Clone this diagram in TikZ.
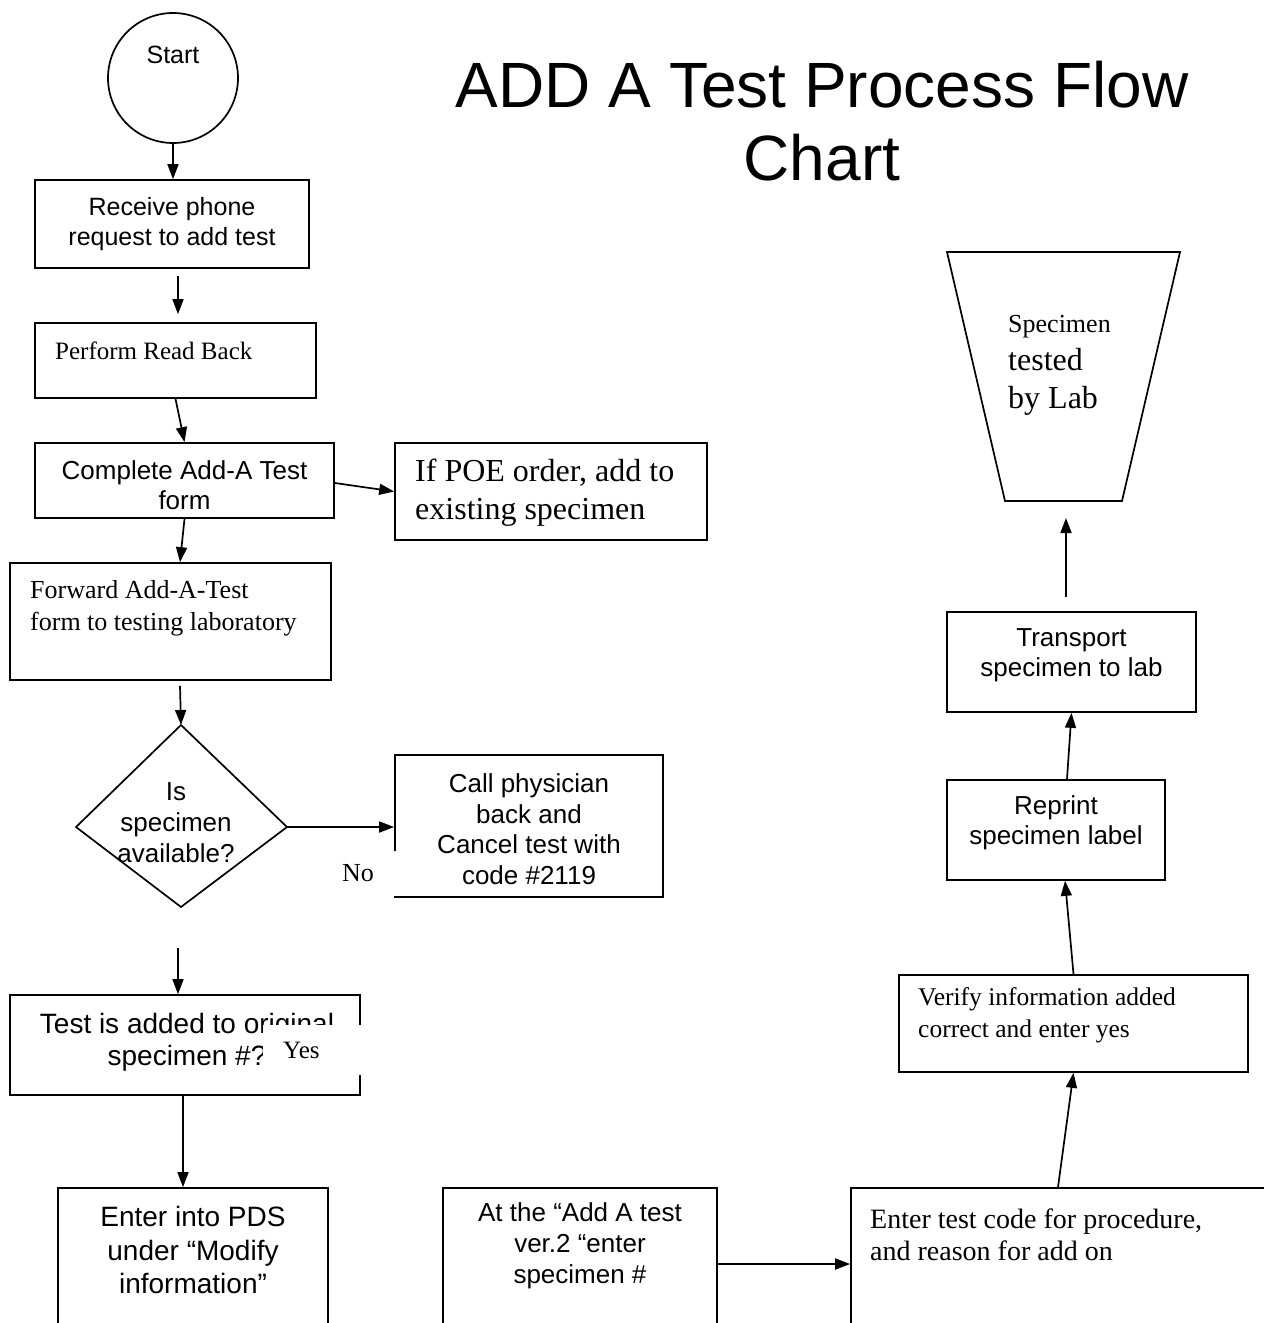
\documentclass[tikz,border=0pt]{standalone}
\usepackage{fontspec}
\setmainfont{Liberation Serif}
\setsansfont{Liberation Sans}
\usetikzlibrary{arrows.meta,calc}
\newcommand\myfs[2]{\fontsize{#1}{#2}\selectfont}
\begin{document}
\begin{tikzpicture}[x=1pt,y=-1pt,
  box/.style={draw, line width=1.7pt, rectangle, inner sep=0pt},
  arr/.style={line width=1.7pt, -{Triangle[length=15pt,width=11pt]}},
  ss/.style={align=center, inner sep=0pt},
  rm/.style={align=left, inner sep=0pt}]
\useasboundingbox (0,0) rectangle (1264,1323);
\clip (0,0) rectangle (1264,1323);
\fill[white] (0,0) rectangle (1264,1323);

% title
\node[ss, font=\sffamily\myfs{64}{73}] (title) at (822,121) {ADD A Test Process Flow\\Chart};

% start
\node[draw, circle, line width=1.7pt, minimum size=130pt, inner sep=0pt] (st) at (173,78) {};
\node[ss, font=\sffamily\myfs{25}{30}] (stt) at (173,55) {Start};

% boxes
\node[box, minimum width=274pt, minimum height=88pt] (b1) at (172,224) {};
\node[ss, font=\sffamily\myfs{25}{30}] (t1) at (172,224) {Receive phone\\request to add test};

\node[box, minimum width=281pt, minimum height=75pt] (b2) at (175.5,360.5) {};
\node[rm, anchor=west, font=\rmfamily\myfs{25}{30}] (t2) at (55,351) {Perform Read Back};

\node[box, minimum width=299pt, minimum height=75pt] (b3) at (184.5,480.5) {};
\node[ss, font=\sffamily\myfs{26}{30}] (t3) at (184.5,485) {Complete Add-A Test\\form};

\node[box, minimum width=312pt, minimum height=97pt] (b4) at (551,491.5) {};
\node[rm, anchor=west, font=\rmfamily\myfs{32}{38}] (t4) at (415,493) {If POE order, add to\\existing specimen};

\node[box, minimum width=321pt, minimum height=117pt] (b5) at (170.5,621.5) {};
\node[rm, anchor=west, font=\rmfamily\myfs{26}{32}] (t5) at (30,608) {Forward Add-A-Test\\form to testing laboratory};

% decision
\coordinate (dT) at (181,725);
\coordinate (dR) at (287,827);
\coordinate (dB) at (181,907);
\coordinate (dL) at (76,827);
\draw[line width=1.7pt, line join=miter] (dT) -- (dR) -- (dB) -- (dL) -- cycle;
\node[ss, font=\sffamily\myfs{26}{31}] (td) at (176,823) {Is\\specimen\\available?};

\node[box, minimum width=268pt, minimum height=142pt] (b6) at (529,826) {};
\node[ss, font=\sffamily\myfs{26}{30.5}] (t6) at (529,829) {Call physician\\back and\\Cancel test with\\code \#2119};
\node[fill=white, minimum height=45pt, text width=48pt, inner xsep=7pt, inner ysep=0pt, align=left, anchor=west, font=\rmfamily\myfs{26}{30}] (no) at (335,873.5) {No};

\node[box, minimum width=350pt, minimum height=100pt] (b7) at (185,1045) {};
\node[ss, font=\sffamily\myfs{28}{32}] (t7) at (187,1042) {Test is added to original\\specimen \#?};
\node[fill=white, minimum height=50pt, text width=99pt, inner sep=0pt, align=left, anchor=west, font=\rmfamily\myfs{25}{30}] (yes) at (263,1050) {\hspace*{20pt}Yes};

\node[box, minimum width=270pt, minimum height=152pt] (b8) at (193,1264) {};
\node[ss, font=\sffamily\myfs{28}{33.5}] (t8) at (193,1250) {Enter into PDS\\under “Modify\\information”};

\node[box, minimum width=274pt, minimum height=152pt] (b9) at (580,1264) {};
\node[ss, font=\sffamily\myfs{26}{31}] (t9) at (580,1246) {At the “Add A test\\ver.2 “enter\\specimen \#};

\node[box, minimum width=424pt, minimum height=152pt] (b10) at (1063,1264) {};
\node[rm, anchor=west, font=\rmfamily\myfs{28}{32}] (t10) at (870,1235) {Enter test code for procedure,\\and reason for add on};

\node[box, minimum width=349pt, minimum height=97pt] (b11) at (1073.5,1023.5) {};
\node[rm, anchor=west, font=\rmfamily\myfs{25.5}{32}] (t11) at (918,1015) {Verify information added\\correct and enter yes};

\node[box, minimum width=218pt, minimum height=100pt] (b12) at (1056,830) {};
\node[ss, font=\sffamily\myfs{26}{30}] (t12) at (1056,823) {Reprint\\specimen label};

\node[box, minimum width=249pt, minimum height=100pt] (b13) at (1071.5,662) {};
\node[ss, font=\sffamily\myfs{26}{30}] (t13) at (1071.5,655) {Transport\\specimen to lab};

% trapezoid
\coordinate (p1) at (947,252);
\coordinate (p2) at (1180,252);
\coordinate (p3) at (1122,501);
\coordinate (p4) at (1005,501);
\coordinate (tb) at (1066,501);
\draw[line width=1.7pt] (p1) -- (p2) -- (p3) -- (p4) -- cycle;
\node[rm, anchor=west, font=\rmfamily\myfs{32}{38}] (tt) at (1008,365) {{\myfs{26}{30}Specimen}\\tested\\by Lab};

% connectors
\draw[arr] (st.south) -- (st.south |- b1.north);
\draw[arr] ($(b1.south)+(6,7)$) -- ($(b2.north)+(2.5,-8)$);
\draw[arr] (b2.south) -- (b3.north);
\draw[arr] ($(b3.east)+(0,2.5)$) -- (b4.west);
\draw[arr] (b3.south) -- ($(b5.north)+(9.5,0)$);
\draw[arr] ($(b5.south)+(9.5,5)$) -- (dT);
\draw[arr] (dR) -- (b6.west |- dR);
\draw[arr] ($(dB)+(-3,41)$) -- ($(dB |- b7.north)+(-3,0)$);
\draw[arr] ($(b7.south)+(-2,0)$) -- ($(b7.south |- b8.north)+(-2,0)$);
\draw[arr] (b9.east) -- (b10.west);
\draw[arr] ($(b10.north)+(-5,0)$) -- (b11.south);
\draw[arr] (b11.north) -- ($(b12.south)+(9,0)$);
\draw[arr] ($(b12.north)+(11,0)$) -- (b13.south);
\draw[arr] ($(b13.north -| tb)+(0,-14)$) -- ($(tb)+(0,17)$);
\end{tikzpicture}
\end{document}
